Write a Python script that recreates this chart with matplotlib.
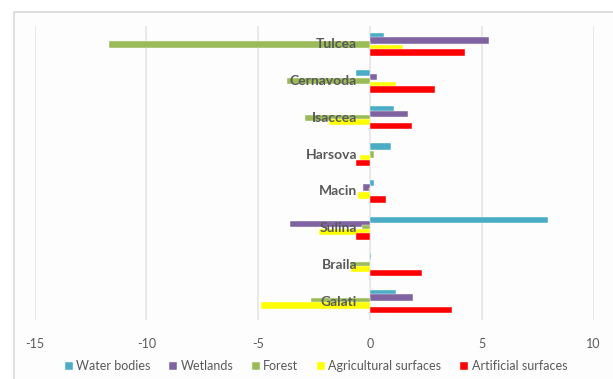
import matplotlib.pyplot as plt
import matplotlib.transforms as mtransforms
from matplotlib.patches import Rectangle
import numpy as np

# Change per land-cover class, by town (top to bottom as shown)
cities = ["Tulcea", "Cernavoda", "Isaccea", "Harsova", "Macin", "Sulina", "Braila", "Galati"]
water = [0.62, -0.64, 1.09, 0.93, 0.17, 7.97, 0.03, 1.18]
wetlands = [5.31, 0.29, 1.70, 0.0, -0.31, -3.59, 0.0, 1.94]
forest = [-11.66, -3.72, -2.89, 0.16, -0.05, -0.35, -0.88, -2.66]
agri = [1.46, 1.14, -1.83, -0.46, -0.56, -2.30, -0.85, -4.86]
artificial = [4.25, 2.90, 1.87, -0.64, 0.73, -0.65, 2.33, 3.67]

series = [
    ("Water bodies", water, "#4BACC6"),
    ("Wetlands", wetlands, "#8064A2"),
    ("Forest", forest, "#9BBB59"),
    ("Agricultural surfaces", agri, "#FFFF00"),
    ("Artificial surfaces", artificial, "#FF0000"),
]

W, H = 613, 379
fig = plt.figure(figsize=(W / 100, H / 100), dpi=100)
fig.patch.set_facecolor("white")

# chart-area frame (cropped at right and bottom)
frame = Rectangle((13.5 / W, -0.1), 1.2, 1.1 - 12 / H,
                  transform=fig.transFigure, facecolor="#fdfdfd",
                  edgecolor="#d9d9d9", linewidth=1.2, zorder=-5)
fig.patches.append(frame)

ax = fig.add_axes([34.7 / W, 1 - 320 / H, (593.7 - 34.7) / W, (320 - 26) / H])
ax.set_facecolor("none")
ax.set_zorder(2)

y = np.arange(len(cities))
step = 0.112
height = 0.177
for k, (name, vals, col) in enumerate(series):
    ax.barh(y + (k - 2) * step, vals, height=height, color=col, label=name,
            edgecolor="white", linewidth=0.3, zorder=3)

ax.set_xlim(-15, 10)
ax.set_ylim(len(cities) - 0.5, -0.5)
ax.set_xticks([-15, -10, -5, 0, 5, 10])
ax.set_xticklabels(["-15", "-10", "-5", "0", "5", "10"])
ax.set_yticks([])
ax.grid(axis="x", color="#e3e3e3", linewidth=1.1, zorder=0)
for s in ax.spines.values():
    s.set_visible(False)
ax.tick_params(axis="x", length=0, pad=13, labelsize=9, labelcolor="#595959")
for lab in ax.get_xticklabels():
    lab.set_family("Lato")

# town labels next to the zero line
off = mtransforms.offset_copy(ax.transData, fig=fig, x=-13, y=0, units="dots")
for i, name in enumerate(cities):
    ax.text(0, i, name, transform=off, ha="right", va="center",
            fontsize=10, fontweight="bold", color="#595959", family="Lato", zorder=5)

leg = fig.legend(loc="center", bbox_to_anchor=(316 / W, 1 - 366.5 / H), ncol=5,
                 frameon=False, handlelength=0.6, handleheight=0.6,
                 handletextpad=0.3, columnspacing=1.5,
                 prop={"family": "Lato", "size": 9})
for t in leg.get_texts():
    t.set_color("#595959")

fig.savefig("out.png", dpi=100)
